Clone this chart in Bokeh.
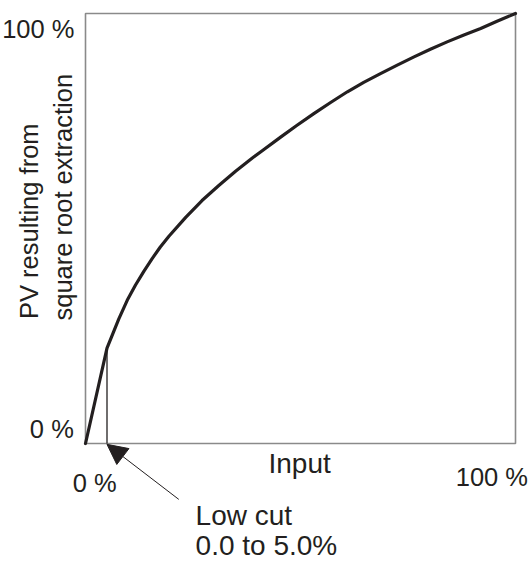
from math import pi
from bokeh.plotting import figure
from bokeh.models import Range1d, Label, Arrow, NormalHead
from bokeh.embed import file_html
from bokeh.resources import INLINE

# ---- data ----
input_pct = [0, 5.0, 7.75, 9.7, 11.6, 13.6, 15.5, 17.4, 19.4, 23.3, 27.1, 31.0,
             34.9, 38.8, 41.1, 45.3, 49.2, 53.1, 57.0, 60.9, 64.7, 68.6, 72.5, 76.4,
             80.2, 84.1, 88.0, 91.9, 95.7, 100]
pv_pct = [0, 22.2, 29.0, 33.3, 36.8, 40.1, 43.0, 45.7, 48.2, 52.6, 56.5, 60.0,
          63.3, 66.4, 68.1, 71.2, 74.0, 76.7, 79.3, 81.8, 84.0, 86.0, 88.0, 89.9,
          91.7, 93.4, 95.0, 96.5, 98.2, 100]
low_cut = 5.0
low_cut_pv = 22.2
tick_labels = ["0 %", "100 %"]
x_title = "Input"
y_title = ["PV resulting from", "square root extraction"]
note = ["Low cut", "0.0 to 5.0%"]

TXT = "#231f20"
REG = "Liberation Sans"

W, H = 529, 561
PX = 4.3          # pixels per percent
X0, Y0 = 85, 443  # pixel position of (0 %, 0 %)

p = figure(width=W, height=H, output_backend="svg", toolbar_location=None,
           x_range=Range1d(-X0 / PX, (W - X0) / PX),
           y_range=Range1d(-(H - Y0) / PX, Y0 / PX),
           x_axis_location=None, y_axis_location=None,
           min_border=0, min_border_left=0, min_border_right=0,
           min_border_top=0, min_border_bottom=0)
p.grid.visible = False
p.outline_line_color = None
p.background_fill_color = "white"
p.border_fill_color = "white"

# plot box
p.quad(left=[0], right=[100], bottom=[0], top=[100], fill_alpha=0,
       line_color="#8a8a8a", line_width=1.6)

# curve
p.line(input_pct, pv_pct, line_color=TXT, line_width=3.2, line_join="round", line_cap="round")
# low cut vertical line
p.segment(x0=[low_cut], y0=[0], x1=[low_cut], y1=[low_cut_pv], line_color=TXT, line_width=1.3)

# arrow pointing to low cut
p.add_layout(Arrow(end=NormalHead(size=20, fill_color=TXT, line_color=TXT),
                   x_start=21.7, y_start=-13.0, x_end=low_cut, y_end=-0.2,
                   line_color=TXT, line_width=1))

def lab(x, y, text, size, align="left", angle=0):
    p.add_layout(Label(x=x, y=y, text=text, text_font=REG, text_font_size=f"{size}px",
                       text_color=TXT, text_align=align, text_baseline="alphabetic",
                       angle=angle))

# tick labels
lab(-2.56, 96.3, tick_labels[1], 25.5, "right")
lab(-2.72, 3.4, tick_labels[0], 25.5, "right")
lab(2.14, -9.2, tick_labels[0], 25.5, "center")
lab(94.5, -7.9, tick_labels[1], 25.5, "center")

# axis titles
lab(49.8, -4.7, x_title, 28, "center")
lab(-13.23, 28.95, y_title[0], 25.5, "left", pi / 2)
lab(-5.16, 28.6, y_title[1], 25.5, "left", pi / 2)

# note
lab(25.6, -16.72, note[0], 28, "left")
lab(25.6, -23.77, note[1], 28, "left")

open("out.html", "w").write(file_html(p, INLINE))
